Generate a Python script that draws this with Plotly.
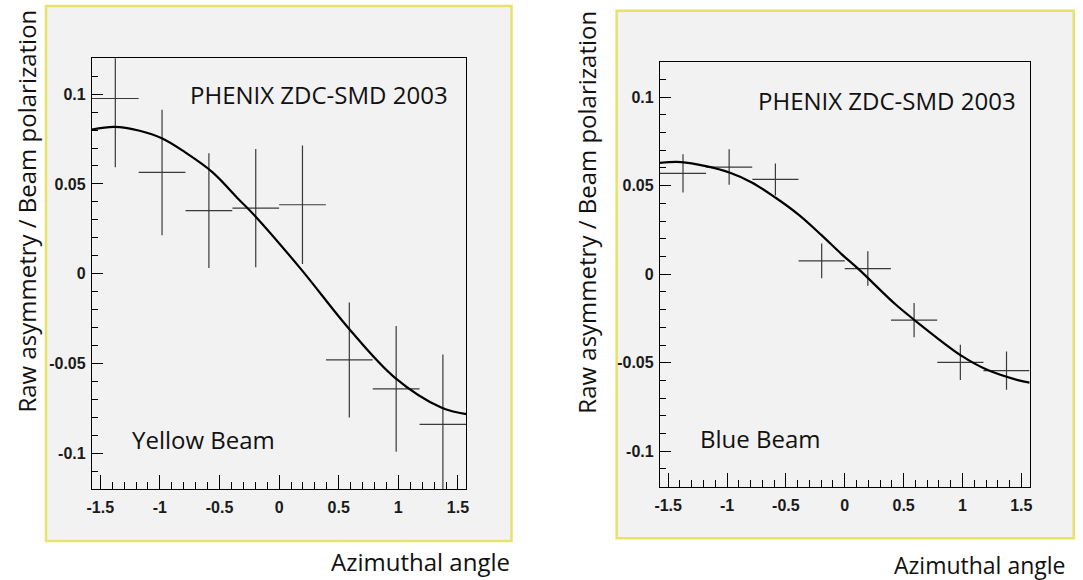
import plotly.graph_objects as go

# ---------------- data ----------------
bin_centers = [-1.374, -0.982, -0.589, -0.196, 0.196, 0.589, 0.982, 1.374]
bin_half_width = [0.196, 0.196, 0.196, 0.196, 0.196, 0.196, 0.196, 0.196]

yellow_vals = [0.0976, 0.0564, 0.0351, 0.0365, 0.0384, -0.0481, -0.0642, -0.0840]
yellow_errs = [0.0383, 0.0350, 0.0320, 0.0330, 0.0330, 0.0320, 0.0350, 0.0390]

blue_vals = [0.0569, 0.0605, 0.0535, 0.0075, 0.0032, -0.0259, -0.0498, -0.0545]
blue_errs = [0.0108, 0.0100, 0.0090, 0.0098, 0.0097, 0.0097, 0.0100, 0.0108]

# fit curves
yellow_fit_x = [-1.5708, -1.38, -1.17, -0.98, -0.79, -0.56, -0.34, -0.20,
                0.18, 0.59, 0.97, 1.36, 1.5708]
yellow_fit_y = [0.0803, 0.0818, 0.0796, 0.0753, 0.0677, 0.0566, 0.0415, 0.0320,
                0.0028, -0.0310, -0.0579, -0.0746, -0.0783]

blue_fit_x = [-1.5708, -1.39, -1.18, -0.98, -0.79, -0.59, -0.39, -0.20, -0.03,
              0.12, 0.43, 0.60, 0.99, 1.21, 1.47, 1.5708]
blue_fit_y = [0.0629, 0.0633, 0.0610, 0.0574, 0.0518, 0.0433, 0.0335, 0.0222, 0.0115,
              0.0027, -0.0170, -0.0263, -0.0460, -0.0540, -0.0598, -0.0612]

x_tickvals = [-1.5, -1, -0.5, 0, 0.5, 1, 1.5]
x_ticktext = ["-1.5", "-1", "-0.5", "0", "0.5", "1", "1.5"]
y_tickvals = [-0.1, -0.05, 0, 0.05, 0.1]
y_ticktext = ["-0.1", "-0.05", "0", "0.05", "0.1"]

x_range = [-1.5708, 1.5708]
y_range = [-0.12, 0.12]

# ---------------- layout geometry (pixels) ----------------
W, H = 1083, 580
def px(x):
    return x / W
def py(y):
    return 1 - y / H

PANEL_BG = "#f2f2f2"
FRAME_YELLOW = "#e8e26a"
BAR_COLOR = "#3a3a3a"

fig = go.Figure()

def add_panel(vals, errs, fit_x, fit_y, xa, ya):
    fig.add_trace(go.Scatter(
        x=bin_centers, y=vals, mode="markers",
        marker=dict(size=1, color=BAR_COLOR),
        error_x=dict(type="data", array=bin_half_width, thickness=1.2, width=0, color=BAR_COLOR),
        error_y=dict(type="data", array=errs, thickness=1.2, width=0, color=BAR_COLOR),
        xaxis=xa, yaxis=ya, showlegend=False, hoverinfo="skip"))
    fig.add_trace(go.Scatter(
        x=fit_x, y=fit_y, mode="lines",
        line=dict(color="black", width=2.2, shape="spline", smoothing=1.0),
        xaxis=xa, yaxis=ya, showlegend=False, hoverinfo="skip"))

add_panel(yellow_vals, yellow_errs, yellow_fit_x, yellow_fit_y, "x", "y")
add_panel(blue_vals, blue_errs, blue_fit_x, blue_fit_y, "x2", "y2")

tick_font = dict(family="Liberation Sans, Arial", size=16, color="#1a1a1a", weight="bold")

def xaxis_cfg(domain, anchor):
    return dict(domain=domain, anchor=anchor, range=x_range, showgrid=False, zeroline=False,
                showline=True, mirror=True, linecolor="black", linewidth=1,
                tickmode="array", tickvals=x_tickvals, ticktext=x_ticktext,
                ticks="inside", ticklen=14, tickwidth=1, tickcolor="black",
                tickfont=tick_font, ticklabelstandoff=4,
                minor=dict(tickmode="linear", tick0=0, dtick=0.1, ticks="inside",
                           ticklen=7, tickwidth=1, tickcolor="black", showgrid=False))

def yaxis_cfg(domain, anchor):
    return dict(domain=domain, anchor=anchor, range=y_range, showgrid=False, zeroline=False,
                showline=True, mirror=True, linecolor="black", linewidth=1,
                tickmode="array", tickvals=y_tickvals, ticktext=y_ticktext,
                ticks="inside", ticklen=11, tickwidth=1, tickcolor="black",
                tickfont=tick_font, ticklabelstandoff=2,
                minor=dict(tickmode="linear", tick0=0, dtick=0.01, ticks="inside",
                           ticklen=6, tickwidth=1, tickcolor="black", showgrid=False))

# plot frames
L_left, L_right, L_top, L_bot = 87.5, 464.8, 58.3, 489.0
R_left, R_right, R_top, R_bot = 659.7, 1032.3, 61.7, 486.7

shapes = [
    dict(type="rect", xref="paper", yref="paper", x0=px(41.3), x1=px(510.3), y0=py(541), y1=py(6),
         fillcolor=PANEL_BG, line=dict(color=FRAME_YELLOW, width=2.5), layer="below"),
    dict(type="rect", xref="paper", yref="paper", x0=px(616.2), x1=px(1076.7), y0=py(538.3), y1=py(10.7),
         fillcolor=PANEL_BG, line=dict(color=FRAME_YELLOW, width=2.5), layer="below"),
]

ann = []
def add_text(t, x, y, size=24, angle=0):
    ann.append(dict(text=t, x=px(x), y=py(y), xref="paper", yref="paper", showarrow=False,
                    xanchor="center", yanchor="middle", textangle=angle,
                    font=dict(family="Open Sans", size=size, color="#111111")))

add_text("PHENIX ZDC-SMD 2003", 316, 95, 24)
add_text("PHENIX ZDC-SMD 2003", 889, 100, 24)
add_text("Yellow Beam", 200, 439, 24)
add_text("Blue Beam", 761.6, 438.3, 24)
add_text("Azimuthal angle", 419, 561.7, 24)
add_text("Azimuthal angle", 982, 565, 23)
add_text("Raw asymmetry / Beam polarization", 20.7, 211, 24, -90)
add_text("Raw asymmetry / Beam polarization", 585, 212, 24, -90)

fig.update_layout(
    width=W, height=H, margin=dict(l=0, r=0, t=0, b=0),
    paper_bgcolor="white", plot_bgcolor=PANEL_BG,
    xaxis=xaxis_cfg([px(L_left), px(L_right)], "y"),
    yaxis=yaxis_cfg([py(L_bot), py(L_top)], "x"),
    xaxis2=xaxis_cfg([px(R_left), px(R_right)], "y2"),
    yaxis2=yaxis_cfg([py(R_bot), py(R_top)], "x2"),
    shapes=shapes, annotations=ann,
)

fig.write_html("out.html", config={"displayModeBar": False},
               post_script="document.body.style.margin='0';document.body.style.overflow='hidden';")
